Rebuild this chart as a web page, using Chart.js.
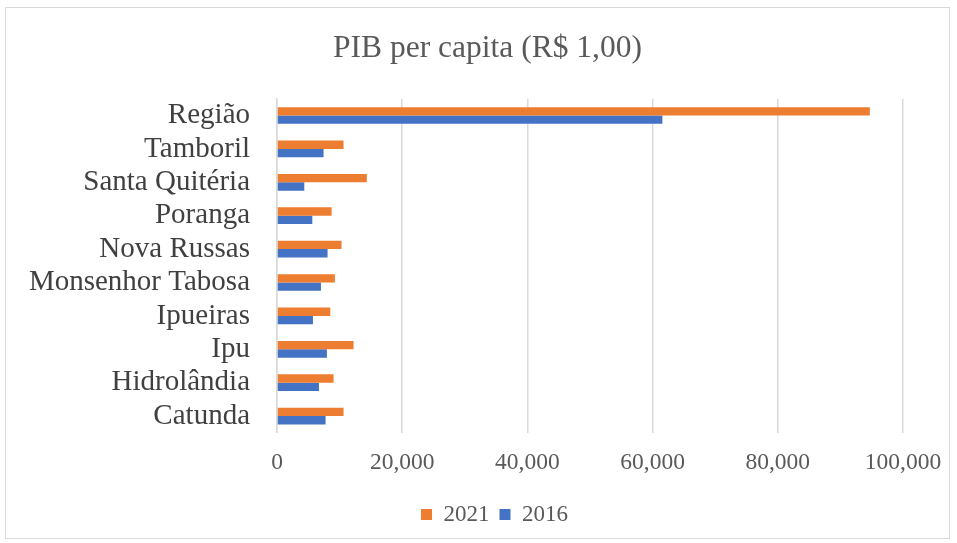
<!DOCTYPE html>
<html>
<head>
<meta charset="utf-8">
<script src="https://cdn.jsdelivr.net/npm/chart.js@4/dist/chart.umd.min.js"></script>
<style>
  html, body { margin: 0; padding: 0; background: #fff; }
  #box {
    position: absolute; left: 5px; top: 7px;
    width: 945px; height: 532px;
    border: 1px solid #d9d9d9; box-sizing: border-box;
  }
  canvas { display: block; }
</style>
</head>
<body>
<div id="box"><canvas id="pib"></canvas></div>
<script>
const municipios = [
  "Região", "Tamboril", "Santa Quitéria", "Poranga", "Nova Russas",
  "Monsenhor Tabosa", "Ipueiras", "Ipu", "Hidrolândia", "Catunda"
];
const pib2021 = [94700, 10630, 14350, 8720, 10310, 9250, 8510, 12230, 9040, 10630];
const pib2016 = [61560, 7440, 4360, 5640, 8080, 7020, 5740, 7970, 6700, 7760];
const xTicks = [0, 20000, 40000, 60000, 80000, 100000];

const serif = "'Liberation Serif', 'Times New Roman', serif";

// title and legend sit a bit right of the canvas centre in the original
const shiftBoxes = {
  id: "shiftBoxes",
  afterLayout(chart) {
    chart.titleBlock.left += 26;
    chart.titleBlock.right += 26;
    chart.legend.left += 33;
    chart.legend.right += 33;
  }
};

new Chart(document.getElementById("pib"), {
  type: "bar",
  data: {
    labels: municipios,
    datasets: [
      { label: "2021", data: pib2021, backgroundColor: "#ED7D31" },
      { label: "2016", data: pib2016, backgroundColor: "#4472C4" }
    ]
  },
  options: {
    indexAxis: "y",
    responsive: true,
    maintainAspectRatio: false,
    animation: false,
    datasets: { bar: { categoryPercentage: 0.5, barPercentage: 1 } },
    layout: { padding: { left: 14, right: 46, top: 22, bottom: 2 } },
    plugins: {
      title: {
        display: true,
        text: "PIB per capita (R$ 1,00)",
        color: "#595959",
        font: { family: serif, size: 31.5, weight: "normal" },
        padding: { top: 0, bottom: 31 }
      },
      legend: {
        position: "bottom",
        labels: {
          color: "#595959",
          font: { family: serif, size: 23 },
          boxWidth: 11, boxHeight: 11,
          padding: 10
        }
      },
      tooltip: { enabled: false }
    },
    scales: {
      x: {
        min: 0, max: 100000,
        afterBuildTicks: (axis) => { axis.ticks = xTicks.map(v => ({ value: v })); },
        afterFit: (axis) => { axis.paddingRight = 0; },
        grid: { color: "#d9d9d9", lineWidth: 1.5, drawTicks: false },
        border: { display: false },
        ticks: {
          color: "#595959",
          padding: 16,
          font: { family: serif, size: 23.5 },
          callback: (v) => v.toLocaleString("en-US")
        }
      },
      y: {
        afterFit: (axis) => { axis.width = 257; },
        grid: { display: false, drawTicks: false },
        border: { color: "#d9d9d9", width: 1.5 },
        ticks: {
          autoSkip: false,
          color: "#404040",
          padding: 27,
          font: { family: serif, size: 29 }
        }
      }
    }
  },
  plugins: [shiftBoxes]
});
</script>
</body>
</html>
